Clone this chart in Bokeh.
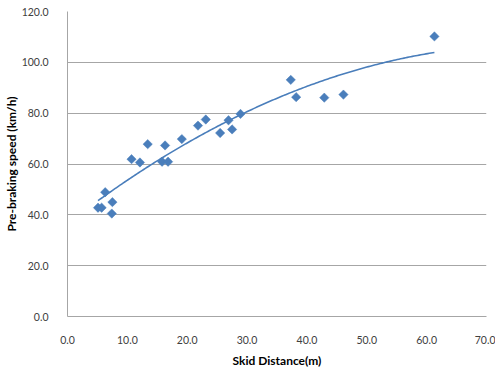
import numpy as np
from bokeh.plotting import figure
from bokeh.models import Range1d, FixedTicker, NumeralTickFormatter
from bokeh.embed import file_html
from bokeh.resources import INLINE

skid_distance = [5.1, 5.7, 6.3, 7.5, 7.4, 10.7, 12.1, 13.4, 15.8, 16.8, 16.3, 19.1,
                 21.8, 23.1, 25.5, 26.9, 27.5, 28.9, 37.3, 38.2, 42.9, 46.1, 61.3]
speed = [42.8, 42.8, 48.9, 45.0, 40.5, 61.9, 60.6, 67.8, 60.9, 60.9, 67.3, 69.8,
         75.1, 77.5, 72.2, 77.2, 73.6, 79.7, 93.1, 86.3, 86.1, 87.3, 110.2]
x_ticks = [0, 10, 20, 30, 40, 50, 60, 70]
y_ticks = [0, 20, 40, 60, 80, 100, 120]

BLUE = "#4a7ebb"
GRID = "#a6a6a6"
TXT = "#404040"
FONT = "Lato"

p = figure(width=495, height=370, output_backend="svg", toolbar_location=None,
           x_range=Range1d(0, 70), y_range=Range1d(0, 120),
           min_border_left=66, min_border_right=9, min_border_top=11, min_border_bottom=53)
p.outline_line_color = None

# 2nd-order polynomial trendline computed from the data (least squares)
coef = np.polyfit(np.array(skid_distance), np.array(speed), 2)
xs = np.linspace(min(skid_distance), max(skid_distance), 200)
ys = np.polyval(coef, xs)
p.line(xs, ys, line_color=BLUE, line_width=1.6)

p.scatter(skid_distance, speed, marker="square", size=6.6, angle=np.pi / 4,
          fill_color=BLUE, line_color=BLUE, line_width=0.5)

p.xaxis.ticker = FixedTicker(ticks=x_ticks)
p.yaxis.ticker = FixedTicker(ticks=y_ticks)
for ax in (p.xaxis[0], p.yaxis[0]):
    ax.formatter = NumeralTickFormatter(format="0.0")
    ax.major_tick_line_color = None
    ax.minor_tick_line_color = None
    ax.major_label_text_font = FONT
    ax.major_label_text_font_size = "10.5px"
    ax.major_label_text_color = TXT
    ax.axis_label_text_font = FONT
    ax.axis_label_text_font_size = "12px"
    ax.axis_label_text_font_style = "bold"
    ax.axis_label_text_color = "#000000"
    ax.major_label_standoff = 13

p.xaxis.axis_line_color = GRID
p.yaxis.axis_line_color = GRID
p.xaxis.axis_label = "Skid Distance(m)"
p.yaxis.axis_label = "Pre-braking speed (km/h)"
p.xaxis.axis_label_standoff = 6
p.yaxis.axis_label_standoff = 0

p.xgrid.grid_line_color = None
p.ygrid.grid_line_color = GRID
p.ygrid.grid_line_width = 1

open("out.html", "w").write(file_html(p, INLINE))
